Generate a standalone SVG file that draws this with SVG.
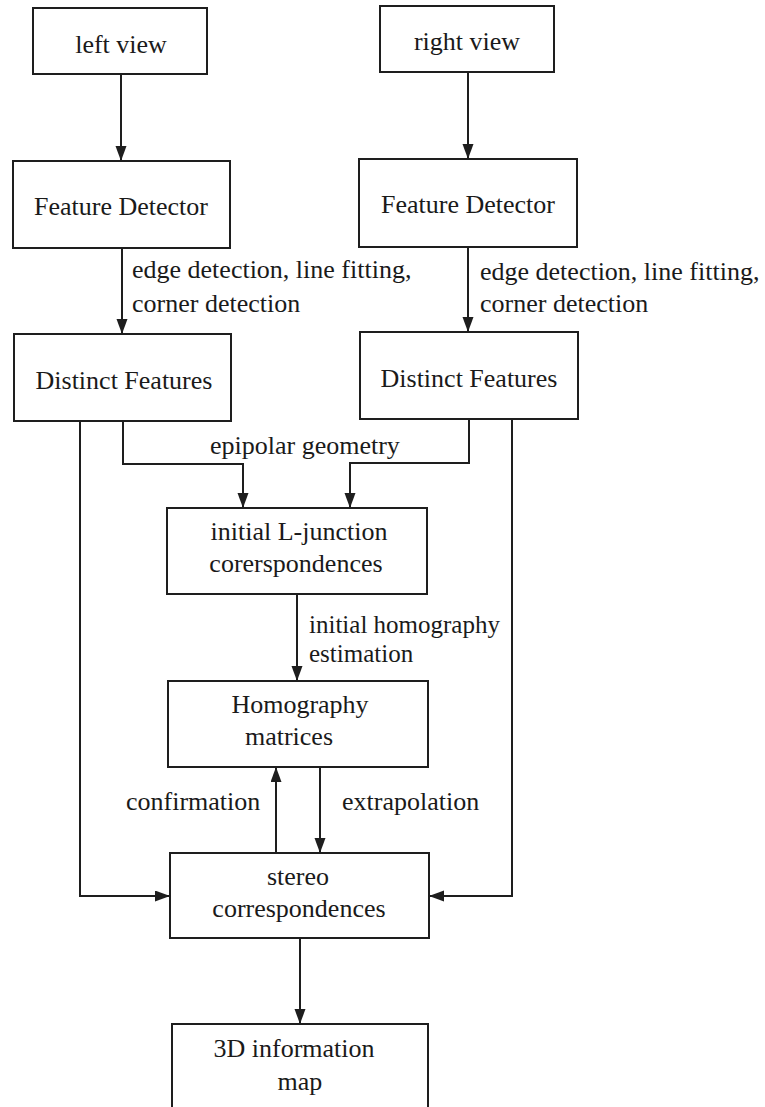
<svg xmlns="http://www.w3.org/2000/svg" width="765" height="1107" viewBox="0 0 765 1107">
<style>
.box{fill:#fff;stroke:#1e1e1e;stroke-width:2}
.t{font-family:"Liberation Serif","Times New Roman",serif;font-size:26px;fill:#1a1a1a}
.s{font-size:25px}
.c{text-anchor:middle}
.ln{fill:none;stroke:#1e1e1e;stroke-width:2}
</style>
<defs>
<marker id="ah" markerUnits="userSpaceOnUse" markerWidth="16" markerHeight="12" refX="15" refY="5.5" orient="auto">
<path d="M0,0 L15,5.5 L0,11 z" fill="#1e1e1e"/>
</marker>
</defs>
<rect width="765" height="1107" fill="#fff"/>
<g id="connectors">
<line class="ln" x1="121" y1="74" x2="121" y2="161" marker-end="url(#ah)"/>
<line class="ln" x1="468" y1="72" x2="468" y2="159" marker-end="url(#ah)"/>
<line class="ln" x1="122" y1="248" x2="122" y2="334" marker-end="url(#ah)"/>
<line class="ln" x1="468" y1="247" x2="468" y2="332" marker-end="url(#ah)"/>
<polyline class="ln" points="123,421 123,464 243,464 243,508" marker-end="url(#ah)"/>
<polyline class="ln" points="469,419 469,463 350,463 350,508" marker-end="url(#ah)"/>
<line class="ln" x1="297" y1="594" x2="297" y2="681" marker-end="url(#ah)"/>
<line class="ln" x1="276" y1="853" x2="276" y2="767" marker-end="url(#ah)"/>
<line class="ln" x1="320" y1="767" x2="320" y2="853" marker-end="url(#ah)"/>
<polyline class="ln" points="80,421 80,896 170,896" marker-end="url(#ah)"/>
<polyline class="ln" points="512,419 512,896 429,896" marker-end="url(#ah)"/>
<line class="ln" x1="300" y1="938" x2="300" y2="1024" marker-end="url(#ah)"/>
<text class="t" x="132" y="278">edge detection, line fitting,</text>
<text class="t" x="132" y="312">corner detection</text>
<text class="t" x="480" y="280">edge detection, line fitting,</text>
<text class="t" x="480" y="312">corner detection</text>
<text class="t" x="210" y="454">epipolar geometry</text>
<text class="t s" x="309" y="633">initial homography</text>
<text class="t s" x="309" y="662">estimation</text>
<text class="t" x="126" y="810">confirmation</text>
<text class="t" x="342" y="810">extrapolation</text>
</g>
<g id="leftView"><rect class="box" x="33" y="8" width="174" height="66"/><text class="t c" x="121" y="53">left view</text></g>
<g id="rightView"><rect class="box" x="380" y="6" width="174" height="66"/><text class="t c" x="467" y="50">right view</text></g>
<g id="fdLeft"><rect class="box" x="13" y="161" width="217" height="87"/><text class="t c" x="121" y="215">Feature Detector</text></g>
<g id="fdRight"><rect class="box" x="359" y="159" width="218" height="88"/><text class="t c" x="468" y="213">Feature Detector</text></g>
<g id="dfLeft"><rect class="box" x="14" y="334" width="217" height="87"/><text class="t c" x="124" y="389">Distinct Features</text></g>
<g id="dfRight"><rect class="box" x="360" y="332" width="218" height="87"/><text class="t c" x="469" y="387">Distinct Features</text></g>
<g id="initialL"><rect class="box" x="167" y="508" width="260" height="86"/><text class="t c" x="299" y="540">initial L-junction</text><text class="t c" x="296" y="572">corerspondences</text></g>
<g id="homography"><rect class="box" x="168" y="681" width="260" height="86"/><text class="t c" x="300" y="713">Homography</text><text class="t c" x="289" y="745">matrices</text></g>
<g id="stereo"><rect class="box" x="170" y="853" width="259" height="85"/><text class="t c" x="298" y="885">stereo</text><text class="t c" x="299" y="917">correspondences</text></g>
<g id="info3d"><rect class="box" x="172" y="1024" width="256" height="100"/><text class="t c" x="294" y="1057">3D information</text><text class="t c" x="300" y="1090">map</text></g>
</svg>
